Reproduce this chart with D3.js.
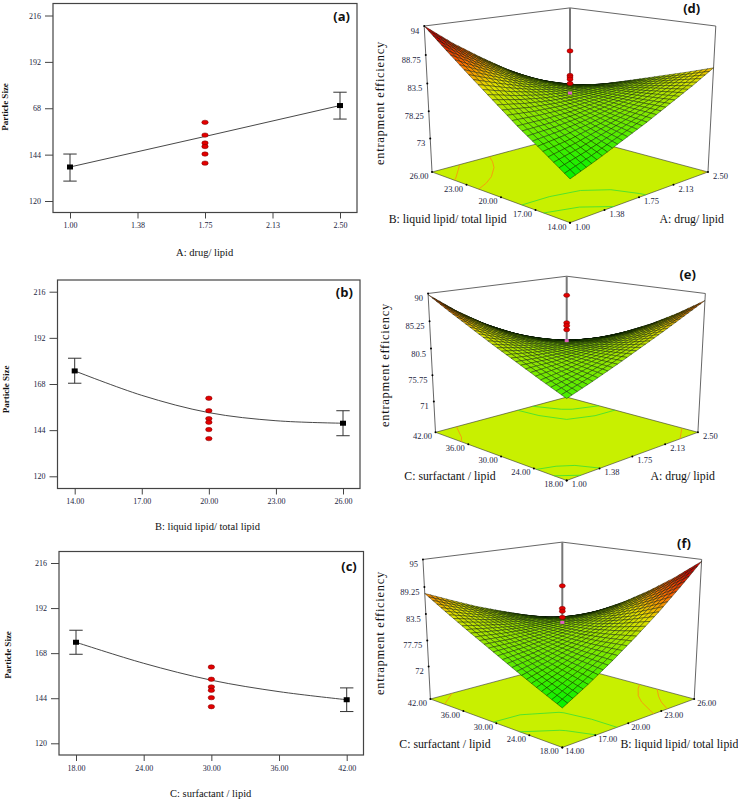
<!DOCTYPE html>
<html>
<head>
<meta charset="utf-8">
<script src="https://cdn.jsdelivr.net/npm/d3@7"></script>
<style>
    body { margin: 0; background: #fff; }
    text { font-family: "Liberation Serif", serif; fill: #111; }
    .tick-label { font-size: 8px; fill: #1b2440; }
    .panel-label { font-family: "Open Sans", sans-serif; font-weight: 700; font-size: 13px; }
</style>
</head>
<body>
<svg id="chart" width="738" height="802"></svg>
<script>
// Factor levels and tick labels, as printed on the axes.
const drugTicks = [1, 1.375, 1.75, 2.125, 2.5];
const drugLabels = ['1.00', '1.38', '1.75', '2.13', '2.50'];
const liquidTicks = [14, 17, 20, 23, 26];
const liquidLabels = ['14.00', '17.00', '20.00', '23.00', '26.00'];
const surfactantTicks = [18, 24, 30, 36, 42];
const surfactantLabels = ['18.00', '24.00', '30.00', '36.00', '42.00'];

const sizeTicks = [216, 192, 168, 144, 120];
const sizeLabelsA = ['216', '192', '68', '144', '120']; // "68" is how panel (a) prints it
const sizeLabels = ['216', '192', '168', '144', '120'];

// Left column: particle size (a), (b), (c).
const drugLine = [137.6, 153.4, 169.4];
const drugLineX = [1, 1.75, 2.5];
const drugEnds = [137.6, 169.4];
const drugLow = [130.3, 162.4];
const drugHigh = [144.3, 176.3];
const drugRuns = [160.7, 154.1, 150, 148.2, 144.3, 139.6];

const liquidLine = [174.8, 162.1, 153.1, 148.9, 147.6];
const liquidEnds = [174.8, 147.6];
const liquidLow = [168.4, 141.1];
const liquidHigh = [181.4, 154.1];
const liquidRuns = [160.6, 154.1, 150, 148.1, 144.3, 139.6];

const surfactantLine = [173.8, 162.6, 153.6, 147.5, 143.2];
const surfactantEnds = [173.8, 143.2];
const surfactantLow = [167.4, 136.9];
const surfactantHigh = [180.2, 149.5];
const surfactantRuns = [160.6, 154.1, 150, 148.2, 144.3, 139.5];

// Right column: entrapment efficiency on a 7x7 grid.
// Rows run from the low to the high level of the left axis factor,
// columns from the low to the high level of the right axis factor.
const surfaceD = [
    [73.8, 75.6, 77.6, 79.6, 81.8, 84.0, 86.4],
    [77.0, 77.8, 78.9, 80.1, 81.5, 83.1, 84.7],
    [80.1, 80.1, 80.3, 80.8, 81.3, 82.1, 83.1],
    [83.5, 82.5, 81.8, 81.4, 81.2, 81.2, 81.5],
    [86.9, 85.1, 83.4, 82.1, 81.1, 80.3, 79.9],
    [90.4, 87.6, 85.1, 82.9, 81.1, 79.6, 78.3],
    [94.0, 90.2, 86.9, 83.8, 81.1, 78.8, 76.9],
];
const surfaceE = [
    [78.1, 79.7, 81.4, 83.2, 85.0, 86.9, 88.8],
    [79.9, 80.6, 81.5, 82.4, 83.5, 84.7, 86.0],
    [81.8, 81.6, 81.6, 81.8, 82.2, 82.8, 83.5],
    [83.7, 82.7, 81.9, 81.4, 81.1, 81.1, 81.4],
    [85.7, 83.9, 82.4, 81.2, 80.3, 79.8, 79.5],
    [87.7, 85.2, 83.0, 81.2, 79.8, 78.7, 78.1],
    [89.8, 86.5, 83.7, 81.4, 79.4, 77.9, 76.9],
];
const surfaceF = [
    [72.3, 75.3, 78.6, 82.2, 86.0, 90.2, 94.6],
    [74.7, 76.7, 78.9, 81.4, 84.1, 87.1, 90.4],
    [77.2, 78.2, 79.4, 80.8, 82.5, 84.5, 86.7],
    [79.8, 79.8, 80.1, 80.6, 81.3, 82.2, 83.4],
    [82.4, 81.6, 80.9, 80.5, 80.3, 80.3, 80.5],
    [85.1, 83.5, 82.0, 80.7, 79.6, 78.7, 78.0],
    [87.9, 85.5, 83.2, 81.2, 79.3, 77.5, 76.0],
];

const contourLevelsD = [77, 79.7, 86, 90];
const contourLevelsE = [79, 80.3, 87];
const contourLevelsF = [76.5, 79.5, 85.8, 88.5];

const designD = [89.5, 85, 84.7, 84.3, 83.5];
const designE = [89.7, 85, 84.5, 83.8];
const designF = [89.5, 84.7, 84.1, 82.8];
const centreD = 81.7;
const centreE = 81.9;
const centreF = 81.7;

const efficiencyTicksD = [94, 88.75, 83.5, 78.25, 73];
const efficiencyTicksE = [90, 85.25, 80.5, 75.75, 71];
const efficiencyTicksF = [95, 89.25, 83.5, 77.75, 72];

const svg = d3.select('#chart');

drawEffectPanel({
    label: '(a)', labelAt: [341.7, 17.7], title: 'A: drug/ lipid', titleAt: [204.7, 253.5], yTitleAt: [5.7, 107],
    box: { left: 53, top: 3.5, right: 357, bottom: 212.5 }, xPx: [70, 340], yPx: [201, 15.5],
    xTicks: drugTicks, xLabels: drugLabels, yLabels: sizeLabelsA,
    lineX: drugLineX, lineY: drugLine, curve: d3.curveLinear,
    ends: drugEnds, low: drugLow, high: drugHigh, runs: drugRuns,
});
drawEffectPanel({
    label: '(b)', labelAt: [344.3, 293.3], title: 'B: liquid lipid/ total lipid', titleAt: [207.5, 527.3], yTitleAt: [6.7, 389.3],
    box: { left: 57.5, top: 280, right: 360, bottom: 488.5 }, xPx: [74.7, 343], yPx: [476.3, 291.7],
    xTicks: liquidTicks, xLabels: liquidLabels, yLabels: sizeLabels,
    lineX: liquidTicks, lineY: liquidLine, curve: d3.curveCardinal,
    ends: liquidEnds, low: liquidLow, high: liquidHigh, runs: liquidRuns,
});
drawEffectPanel({
    label: '(c)', labelAt: [349, 567.3], title: 'C: surfactant / lipid', titleAt: [210.7, 795], yTitleAt: [8.7, 655],
    box: { left: 59, top: 551.5, right: 363.5, bottom: 755 }, xPx: [76, 346.7], yPx: [743.3, 563],
    xTicks: surfactantTicks, xLabels: surfactantLabels, yLabels: sizeLabels,
    lineX: surfactantTicks, lineY: surfactantLine, curve: d3.curveCardinal,
    ends: surfactantEnds, low: surfactantLow, high: surfactantHigh, runs: surfactantRuns,
});

drawSurfacePanel({
    label: '(d)', labelAt: [691.7, 10], view: { cx: 570, cy: 172, zoom: 1 }, zRange: [66.4, 94], colorRange: [73.8, 94],
    grid: surfaceD, levels: contourLevelsD, design: designD, centre: centreD, zTicks: efficiencyTicksD,
    rightTicks: drugTicks, rightLabels: drugLabels, leftTicks: liquidTicks, leftLabels: liquidLabels,
    leftTitle: 'B: liquid lipid/ total lipid', leftTitleAt: [447.7, 220],
    rightTitle: 'A: drug/ lipid', rightTitleAt: [691.7, 220], zTitleAt: [380.7, 103],
});
drawSurfacePanel({
    label: '(e)', labelAt: [687.7, 275.7], view: { cx: 566.7, cy: 432.3, zoom: 0.951 }, zRange: [65.25, 90], colorRange: [75, 93],
    grid: surfaceE, levels: contourLevelsE, design: designE, centre: centreE, zTicks: efficiencyTicksE,
    rightTicks: drugTicks, rightLabels: drugLabels, leftTicks: surfactantTicks, leftLabels: surfactantLabels,
    leftTitle: 'C: surfactant / lipid', leftTitleAt: [450, 477.7],
    rightTitle: 'A: drug/ lipid', rightTitleAt: [682.7, 477.7], zTitleAt: [385.7, 365],
});
drawSurfacePanel({
    label: '(f)', labelAt: [684, 545], view: { cx: 562.3, cy: 699, zoom: 0.956 }, zRange: [64.6, 95], colorRange: [72.3, 94.6],
    grid: surfaceF, levels: contourLevelsF, design: designF, centre: centreF, zTicks: efficiencyTicksF,
    rightTicks: liquidTicks, rightLabels: liquidLabels, leftTicks: surfactantTicks, leftLabels: surfactantLabels,
    leftTitle: 'C: surfactant / lipid', leftTitleAt: [445, 745],
    rightTitle: 'B: liquid lipid/ total lipid', rightTitleAt: [679.5, 745], zTitleAt: [380.7, 633],
});

/**
 * One-factor effect plot with error bars at both ends and the centre runs in red.
 */
function drawEffectPanel(p) {
    const x = d3.scaleLinear().domain(d3.extent(p.xTicks)).range(p.xPx);
    const y = d3.scaleLinear().domain([120, 216]).range(p.yPx);
    const g = svg.append('g');
    const mid = p.xTicks[2];
    const ends = [p.xTicks[0], p.xTicks[4]];

    g.append('rect')
        .attr('x', p.box.left)
        .attr('y', p.box.top)
        .attr('width', p.box.right - p.box.left)
        .attr('height', p.box.bottom - p.box.top)
        .attr('fill', 'none')
        .attr('stroke', '#444')
        .attr('stroke-width', 1.2);

    const xAxis = d3.axisBottom(x).tickValues(p.xTicks).tickSize(6).tickPadding(4).tickFormat((d, i) => p.xLabels[i]);
    const yAxis = d3.axisLeft(y).tickValues(sizeTicks).tickSize(8).tickPadding(4).tickFormat((d, i) => p.yLabels[i]);
    g.append('g').attr('transform', `translate(0, ${p.box.bottom})`).call(xAxis);
    g.append('g').attr('transform', `translate(${p.box.left}, 0)`).call(yAxis);
    g.selectAll('.domain').remove();
    g.selectAll('.tick line').attr('stroke', '#444');
    g.selectAll('.tick text').attr('class', 'tick-label').attr('font-family', null).attr('font-size', null);

    const line = d3.line().x((d, i) => x(p.lineX[i])).y(d => y(d)).curve(p.curve);
    g.append('path').attr('d', line(p.lineY)).attr('fill', 'none').attr('stroke', '#333').attr('stroke-width', 0.9);

    ends.forEach((level, i) => {
        const px = x(level);
        g.append('line').attr('x1', px).attr('x2', px).attr('y1', y(p.low[i])).attr('y2', y(p.high[i])).attr('stroke', '#333');
        [p.low[i], p.high[i]].forEach(v => {
            g.append('line').attr('x1', px - 6.7).attr('x2', px + 6.7).attr('y1', y(v)).attr('y2', y(v)).attr('stroke', '#333');
        });
        g.append('rect').attr('x', px - 3).attr('y', y(p.ends[i]) - 2.5).attr('width', 6).attr('height', 5).attr('fill', '#000');
    });

    g.selectAll('.run')
        .data(p.runs)
        .enter()
        .append('ellipse')
        .attr('cx', x(mid))
        .attr('cy', d => y(d))
        .attr('rx', 3.2)
        .attr('ry', 2.2)
        .attr('fill', '#e30000')
        .attr('stroke', '#700')
        .attr('stroke-width', 0.5);

    g.append('text').attr('x', p.titleAt[0]).attr('y', p.titleAt[1]).attr('text-anchor', 'middle').attr('dominant-baseline', 'middle').attr('font-size', 10.5).text(p.title);
    g.append('text')
        .attr('transform', `translate(${p.yTitleAt[0]}, ${p.yTitleAt[1]}) rotate(-90)`)
        .attr('text-anchor', 'middle')
        .attr('dominant-baseline', 'middle')
        .attr('font-size', 9)
        .attr('font-weight', 700)
        .text('Particle Size');
    g.append('text').attr('class', 'panel-label').attr('x', p.labelAt[0]).attr('y', p.labelAt[1]).attr('text-anchor', 'middle').attr('dominant-baseline', 'middle').text(p.label);
}

/**
 * Response surface in perspective, over the contour plot on the floor.
 * u runs along the right floor axis, v along the left floor axis, both 0..1.
 */
function drawSurfacePanel(p) {
    const { cx, cy, zoom } = p.view;
    const pitchSin = 0.31;
    const pitchCos = 0.951;
    const distance = 8.62;
    const focal = 841 * zoom;
    const zScale = d3.scaleLinear().domain(p.zRange).range([0, 1.489]);
    const g = svg.append('g');

    const project = (u, v, z) => {
        const wx = 2 * u - 1;
        const wy = 2 * v - 1;
        const across = (wx - wy) / Math.SQRT2;
        const depth = (wx + wy) / Math.SQRT2;
        const h = zScale(z);
        const up = h * pitchCos + depth * pitchSin;
        const far = distance + depth * pitchCos - h * pitchSin;
        return [cx + (focal * across) / far, cy - (focal * up) / far];
    };
    const floor = p.zRange[0];
    const top = p.zRange[1];
    const toPath = pts => 'M' + pts.map(d => d.join(',')).join('L');

    // Floor and frame.
    g.append('path')
        .attr('d', toPath([[0, 0], [1, 0], [1, 1], [0, 1]].map(d => project(d[0], d[1], floor))) + 'Z')
        .attr('fill', '#c8f000')
        .attr('stroke', '#333')
        .attr('stroke-width', 0.6);
    g.append('path')
        .attr('d', toPath([[0, 1, floor], [0, 1, top], [1, 1, top], [1, 0, top], [1, 0, floor]].map(d => project(...d))))
        .attr('fill', 'none')
        .attr('stroke', '#555')
        .attr('stroke-width', 0.9);
    g.append('path')
        .attr('d', toPath([project(1, 1, top), project(1, 1, floor)]))
        .attr('stroke', '#777')
        .attr('stroke-width', 2);

    const n = p.grid.length;
    const color = d3
        .scaleLinear()
        .domain([0, 0.3, 0.55, 0.72, 0.9].map(d3.interpolate(...p.colorRange)))
        .range(['#00f000', '#78ea00', '#e6e000', '#ff6a00', '#d00000'])
        .clamp(true);

    // Floor contours from the same grid; keep only the stretches inside the square.
    const contours = d3.contours().size([n, n]).thresholds(p.levels)(p.grid.flat());
    const atEdge = pt => pt[0] <= 0 || pt[1] <= 0 || pt[0] >= n || pt[1] >= n;
    const toFloor = pt => project((pt[0] - 0.5) / (n - 1), (pt[1] - 0.5) / (n - 1), floor);
    contours.forEach(c => {
        let d = '';
        c.coordinates.forEach(poly => poly.forEach(ring => {
            d3.pairs(ring).forEach(([a, b]) => {
                if (!atEdge(a) && !atEdge(b)) d += toPath([toFloor(a), toFloor(b)]);
            });
        }));
        g.append('path')
            .attr('d', d)
            .attr('fill', 'none')
            .attr('stroke', c.value > p.centre ? '#ff8a10' : '#35e035')
            .attr('stroke-width', 0.8);
    });

    // Each grid cell of read values is split into facets only to give the printed mesh its look.
    const split = 5;
    const cellValue = (a, b) => {
        const i = Math.min(Math.floor(a / split), n - 2);
        const j = Math.min(Math.floor(b / split), n - 2);
        const s = a / split - i;
        const t = b / split - j;
        const rowA = d3.interpolate(p.grid[j][i], p.grid[j][i + 1])(s);
        const rowB = d3.interpolate(p.grid[j + 1][i], p.grid[j + 1][i + 1])(s);
        return d3.interpolate(rowA, rowB)(t);
    };
    const steps = d3.range((n - 1) * split);
    const size = steps.length;
    const facets = d3.cross(steps, steps).map(([a, b]) => ({
        a,
        b,
        mean: d3.mean([cellValue(a, b), cellValue(a + 1, b), cellValue(a, b + 1), cellValue(a + 1, b + 1)]),
        pts: [[a, b], [a + 1, b], [a + 1, b + 1], [a, b + 1]].map(([s, t]) => project(s / size, t / size, cellValue(s, t))),
    }));
    facets.sort((m, k) => k.a + k.b - (m.a + m.b));

    g.selectAll('.facet')
        .data(facets)
        .enter()
        .append('path')
        .attr('d', d => toPath(d.pts) + 'Z')
        .attr('fill', d => color(d.mean))
        .attr('stroke', '#041400')
        .attr('stroke-width', 0.42);

    // Centre runs.
    g.selectAll('.design')
        .data(p.design)
        .enter()
        .append('ellipse')
        .attr('cx', project(0.5, 0.5, floor)[0])
        .attr('cy', d => project(0.5, 0.5, d)[1])
        .attr('rx', 3)
        .attr('ry', 2.1)
        .attr('fill', '#e30000')
        .attr('stroke', '#700')
        .attr('stroke-width', 0.5);
    const centre = project(0.5, 0.5, p.centre);
    g.append('rect').attr('x', centre[0] - 2).attr('y', centre[1] - 1.5).attr('width', 4).attr('height', 3).attr('fill', '#e060c0');

    // Floor axes: ticks are evenly spaced along each front edge, as printed.
    const frontCorner = project(0, 0, floor);
    const addFloorTicks = (values, labels, farCorner, dx) => {
        const place = d3.scaleLinear().domain(d3.extent(values)).range([frontCorner, farCorner]);
        values.forEach((value, i) => {
            const pt = place(value);
            g.append('circle').attr('cx', pt[0]).attr('cy', pt[1]).attr('r', 1).attr('fill', '#000');
            g.append('text')
                .attr('class', 'tick-label')
                .attr('x', pt[0] + dx)
                .attr('y', pt[1] + 5)
                .attr('text-anchor', 'middle')
                .attr('dominant-baseline', 'middle')
                .style('font-size', '8.5px')
                .text(labels[i]);
        });
    };
    addFloorTicks(p.rightTicks, p.rightLabels, project(1, 0, floor), 12.5);
    addFloorTicks(p.leftTicks, p.leftLabels, project(0, 1, floor), -13);

    // Response axis on the left upright.
    p.zTicks.forEach(value => {
        const pt = project(0, 1, value);
        g.append('circle').attr('cx', pt[0]).attr('cy', pt[1]).attr('r', 1).attr('fill', '#000');
        g.append('text')
            .attr('class', 'tick-label')
            .attr('x', pt[0] - 5)
            .attr('y', pt[1] + 6)
            .attr('text-anchor', 'end')
            .attr('dominant-baseline', 'middle')
            .style('font-size', '8.5px')
            .text(value);
    });

    const addTitle = (text, at) => g.append('text').attr('x', at[0]).attr('y', at[1]).attr('text-anchor', 'middle').attr('dominant-baseline', 'middle').attr('font-size', 11.8).text(text);
    addTitle(p.leftTitle, p.leftTitleAt);
    addTitle(p.rightTitle, p.rightTitleAt);
    g.append('text')
        .attr('transform', `translate(${p.zTitleAt[0]}, ${p.zTitleAt[1]}) rotate(-90)`)
        .attr('text-anchor', 'middle')
        .attr('dominant-baseline', 'middle')
        .attr('font-size', 12.5)
        .attr('letter-spacing', 0.7)
        .text('entrapment efficiency');
    g.append('text').attr('class', 'panel-label').attr('x', p.labelAt[0]).attr('y', p.labelAt[1]).attr('text-anchor', 'middle').attr('dominant-baseline', 'middle').text(p.label);
}
</script>
</body>
</html>
